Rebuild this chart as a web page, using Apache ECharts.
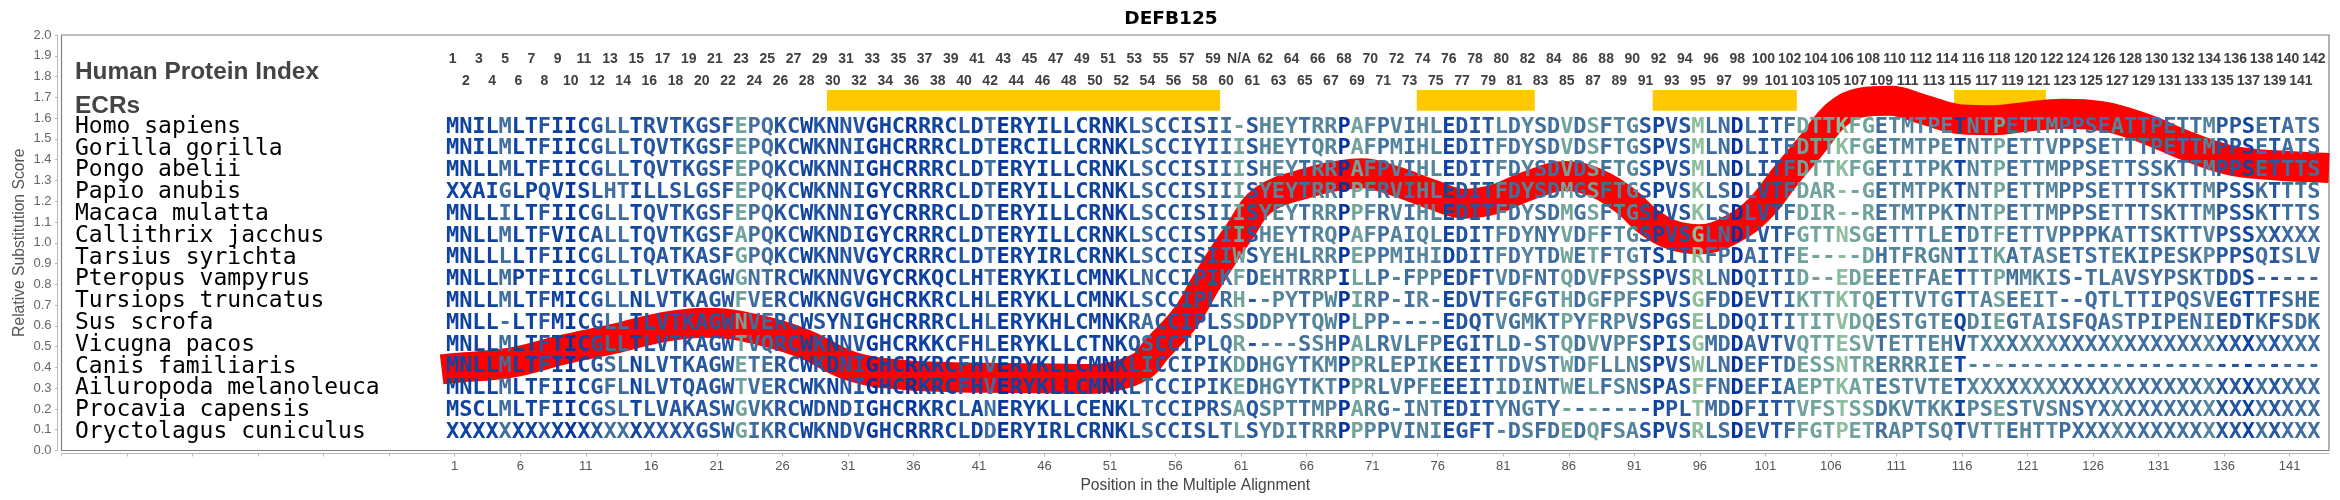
<!DOCTYPE html>
<html><head><meta charset="utf-8">
<style>html,body{margin:0;padding:0;background:#fff}#c{width:2340px;height:500px}</style>
<script src="https://cdn.jsdelivr.net/npm/echarts@6/dist/echarts.min.js"></script>
</head><body><div id="c"></div>
<script>
const chartTitle = 'DEFB125';
const speciesNames = ['Homo sapiens','Gorilla gorilla','Pongo abelii','Papio anubis','Macaca mulatta','Callithrix jacchus','Tarsius syrichta','Pteropus vampyrus','Tursiops truncatus','Sus scrofa','Vicugna pacos','Canis familiaris','Ailuropoda melanoleuca','Procavia capensis','Oryctolagus cuniculus'];
const sequences = [
'MNILMLTFII CGLLTRVTKG SFEPQKC WKNNVGHCRR RCLDTERYIL LCRNKLSCCI SII-SHEYTR RPAFPVIHLE DITLDYSDVD S FTGSPVSMLN DLITFDTTKF GETMTPETNT PETTMPPSEA TTPETTMPPS ETATS',
'MNILMLTFII CGLLTQVTKG SFEPQKC WKNNIGHCRR RCLDTERCIL LCRNKLSCCI YIIISHEYTQ RPAFPMIHLE DITFDYSDVD S FTGSPVSMLN DLITFDTTKF GETMTPETNT PETTVPPSET TTPETTMPPS ETATS',
'MNLLMLTFII CGLLTQVTKG SFEPQKC WKNNIGHCRR RCLDTERYIL LCRNKLSCCI SIIISHEYTR RPAFPVIHLE DITFDYSDVD S FTGSPVSMLN DLITFDTTKF GETITPKTNT PETTMPPSET TSSKTTMPPS ETTTS',
'XXAIGLPQVI SLHTILLSLG SFEPQKC WKNNIGYCRR RCLDTERYIL LCRNKLSCCI SIIISYEYTR RPPFRVIHLE DITFDYSDMG S FTGSPVSKLS DLVTFDAR-- GETMTPKTNT PETTMPPSET TTSKTTMPSS KTTTS',
'MNLLILTFII CGLLTQVTKG SFEPQKC WKNNIGYCRR RCLDTERYIL LCRNKLSCCI SIIISYEYTR RPPFRVIHLE DITFDYSDMG S FTGSPVSKLS DLVTFDIR-- RETMTPKTNT PETTMPPSET TTSKTTMPSS KTTTS',
'MNLLMLTFVI CALLTQVTKG SFAPQKC WKNDIGYCRR RCLDTERYIL LCRNKLSCCI SIIISHEYTR QPAFPAIQLE DITFDYNYVD F FTGSPVSGLN DLVTFGTTNS GETTTLETDT FETTVPPPKA TTSKTTVPSS XXXXX',
'MNLLLLTFII CGLLTQATKA SFGPQKC WKNNVGYCRR RCLDTERYIR LCRNKLSCCI SIIWSYEHLR RPEPPMIHID DITFDYTDWE T FTGTSITRFP DAITFE---- DHTFRGNTIT KATASETSTE KIPESKPPPS QISLV',
'MNLLMPTFII CGLLTLVTKA GWGNTRC WKNNVGYCRK QCLHTERYKI LCMNKLNCCI PIKFDEHTRR PILLP-FPPE DFTVDFNTQD V FPSSPVSRLN DQITID--ED EEETFAETTT PMMKIS-TLA VSYPSKTDDS -----',
'MNLLMLTFMI CGLLNLVTKA GWFVERC WKNGVGHCRK RCLHLERYKL LCMNKLSCCI PLRH--PYTP WPIRP-IR-E DVTFGFGTHD G FPFSPVSGFD DEVTIKTTKT QETTVTGTTA SEEIT--QTL TTIPQSVEGT TFSHE',
'MNLL-LTFMI CGLLTLVTKA GWNVERC WSYNIGHCRR RCLHLERYKH LCMNKRACCI PLSSDDPYTQ WPLPP----E DQTVGMKTPY F RPVSPGSELD DQITITITVD QESTGTEQDI EGTAISFQAS TPIPENIEDT KFSDK',
'MNLLMLTFTI CGLLTLVTKA GWTVQRC WKNNVGHCRK KCFHLERYKL LCTNKQSCCI PLQR----SS HPALRVLFPE GITLD-STQD V VPFSPISGMD DAVTVQTTES VTETTEHVTX XXXXXXXXXX XXXXXXXXXX XXXXX',
'MNLLMLTFII CGSLNLVTKA GWETERC WKDNIGHCRK RCFHVERYKL LCMNKLICCI PIKDDHGYTK MPPRLEPIKE EITTDVSTWD F LLNSPVSWLN DEFTDESSNT RERRRIET-- ---------- ---------- -----',
'MNLLMLTFII CGFLNLVTQA GWTVERC WKNNIGHCRK RCFHVERYKL LCMNKLTCCI PIKEDHGYTK TPPRLVPFEE EITIDINTWE L FSNSPASFFN DEFIAEPTKA TESTVTETXX XXXXXXXXXX XXXXXXXXXX XXXXX',
'MSCLMLTFII CGSLTLVAKA SWGVKRC WDNDIGHCRK RCLANERYKL LCENKLTCCI PRSAQSPTTM PPARG-INTE DITYNGTY-- - ----PPLTMD DFITTVFSTS SDKVTKKIPS ESTVSNSYXX XXXXXXXXXX XXXXX',
'XXXXXXXXXX XXXXXXXXXG SWGIKRC WKNDVGHCRR RCLDDERYIR LCRNKLSCCI SLTLSYDITR RPPPPVINIE GFT-DSFDED Q FSASPVSRLS DEVTFFGTPE TRAPTSQTVT TEHTTPXXXX XXXXXXXXXX XXXXX'
];
// Shade of each alignment column, 0 = deepest blue ... 6 = palest green
const columnShades = '1111311210 1233122222 2253322 1212201101 1121301111 1110123222 2235244434 4054343441 2224343353 5 3442122633 0322355565 5344444144 5344433334 3333334221 32333';
const shadePalette = ['#06339f','#0f43a0','#25569f','#3f6e9f','#55859d','#6fa39c','#8cbd9c'];
const ecrStart = [30,75,93,116];
const ecrEnd = [59,83,103,122];
const linePositions = [0,1,5.3,9.2,13.1,16.6,20.1,22.8,27.4,31.3,35.2,39.1,43,46.9,49.2,51.5,53.5,54.5,56.8,58.3,59.9,60.8,62.7,66.4,68.7,70.2,72.6,75.7,78,80.4,82.7,85.8,88,90.3,92.1,93.9,96,98.6,100.7,102.5,104.4,106.5,108.3,110.5,113,115.9,118.4,120.9,123.7,126.6,129.9,133.1,136.4,139.6,144];
const lineScores = [0.39,0.397,0.423,0.484,0.537,0.59,0.615,0.60,0.52,0.404,0.364,0.353,0.349,0.346,0.344,0.36,0.41,0.484,0.644,0.805,0.965,1.046,1.206,1.294,1.326,1.335,1.30,1.23,1.188,1.21,1.27,1.321,1.29,1.203,1.10,1.037,1.017,1.07,1.173,1.318,1.462,1.62,1.675,1.683,1.643,1.594,1.59,1.606,1.621,1.61,1.551,1.467,1.398,1.374,1.36];
const axisTickLabels = [1,6,11,16,21,26,31,36,41,46,51,56,61,66,71,76,81,86,91,96,101,106,111,116,121,126,131,136,141];
const blankTicks = [-29,-24,-19,-14,-9,-4];
const hiddenColumnLabel = 'N/A';

const X_SHIFT = 29;           // axis value = alignment position + shift, so min is a multiple of the interval
const LETTER_NUDGE = -0.15;
const FIRST_ROW_Y = 1.558, ROW_STEP = 0.10495;
const NAME_X = 1.03;
const LABEL_Y_ODD = 1.885, LABEL_Y_EVEN = 1.779;
const ECR_TOP = 1.735, ECR_BOTTOM = 1.635;

const shades = columnShades.replace(/ /g,'');
const texts = [];
const add = (x,y,text,font,fill,align) => texts.push({x,y,text,font,fill,align});
const seqFont = 'bold 22px "DejaVu Sans Mono"';
sequences.forEach((raw,r)=>{
  const seq = raw.replace(/ /g,'');
  const y = FIRST_ROW_Y - r*ROW_STEP;
  add(NAME_X,y,speciesNames[r],'23px "DejaVu Sans Mono"','#000','left');
  for(let i=0;i<seq.length;i++){
    const s = +shades[i];
    const fill = shadePalette[seq[i]==='X' ? Math.min(s,4) : s];
    add(i+1+X_SHIFT+LETTER_NUDGE,y,seq[i],seqFont,fill,'center');
  }
});
for(let c=1;c<=143;c++){
  const label = c<=60 ? String(c) : (c===61 ? hiddenColumnLabel : String(c-1));
  add(c+X_SHIFT+LETTER_NUDGE,c%2?LABEL_Y_ODD:LABEL_Y_EVEN,label,'bold 14px "Liberation Sans"','#404040','center');
}
const headFont = 'bold 24.4px "Liberation Sans"';
add(NAME_X,1.822,'Human Protein Index',headFont,'#444','left');
add(NAME_X,1.657,'ECRs',headFont,'#444','left');

const xTicks = blankTicks.concat(axisTickLabels).map(p=>p+X_SHIFT);
const chart = echarts.init(document.getElementById('c'),null,{renderer:'canvas'});
chart.setOption({
  animation:false,
  backgroundColor:'#fff',
  title:{text:chartTitle,left:1166,top:5,textAlign:'center',textStyle:{fontFamily:'DejaVu Sans',fontWeight:'bold',fontSize:18.5,color:'#000'}},
  grid:{left:61.5,right:11,top:35,bottom:49.5,show:true,borderColor:'#808080',borderWidth:1.2,backgroundColor:'#fff'},
  xAxis:{type:'value',min:0,max:173,interval:5,offset:3,
    name:'Position in the Multiple Alignment',nameLocation:'middle',nameGap:24,
    nameTextStyle:{fontFamily:'Liberation Sans',fontSize:15.6,color:'#444'},
    splitLine:{show:false},
    axisLine:{show:true,onZero:false,lineStyle:{color:'#b8b8b8',width:1}},
    axisTick:{show:true,length:3,customValues:xTicks,lineStyle:{color:'#b8b8b8'}},
    axisLabel:{fontFamily:'Liberation Sans',fontSize:13,color:'#555',margin:6,customValues:xTicks,
      showMinLabel:true,showMaxLabel:true,hideOverlap:false,
      formatter:v=>{const p=Math.round(v)-X_SHIFT;return axisTickLabels.includes(p)?String(p):'';}}
  },
  yAxis:{type:'value',min:0,max:2,interval:0.1,offset:4,
    name:'Relative Substitution Score',nameLocation:'middle',nameRotate:90,nameGap:30,nameMoveOverlap:false,
    nameTextStyle:{fontFamily:'Liberation Sans',fontSize:15.7,color:'#555'},
    splitLine:{show:false},
    axisLine:{show:true,onZero:false,lineStyle:{color:'#b8b8b8',width:1}},
    axisTick:{show:true,length:2.5,lineStyle:{color:'#b8b8b8'}},
    axisLabel:{fontFamily:'Liberation Sans',fontSize:13,color:'#666',margin:6,formatter:v=>v.toFixed(1)}
  },
  series:[
    {type:'custom',name:'ECRs',silent:true,z:2,coordinateSystem:'cartesian2d',
      data:ecrStart.map((s,i)=>[s-0.6+X_SHIFT,ecrEnd[i]+0.4+X_SHIFT]),
      encode:{x:[0,1]},
      renderItem:(p,api)=>{
        const a=api.coord([api.value(0),ECR_TOP]), b=api.coord([api.value(1),ECR_BOTTOM]);
        return {type:'rect',shape:{x:a[0],y:a[1],width:b[0]-a[0],height:b[1]-a[1]},style:{fill:'#ffc800'}};
      }},
    {type:'line',name:'Relative Substitution Score',silent:true,z:3,smooth:0.4,symbol:'none',
      data:linePositions.map((p,i)=>[p+X_SHIFT,lineScores[i]]),
      lineStyle:{color:'#ff0000',width:30,cap:'butt',join:'round'}},
    {type:'custom',name:'Text',silent:true,z:4,clip:false,coordinateSystem:'cartesian2d',
      data:texts.map(t=>[t.x,t.y]),
      encode:{x:0,y:1},
      renderItem:(p,api)=>{
        const t=texts[p.dataIndex], c=api.coord([t.x,t.y]);
        return {type:'text',x:c[0],y:c[1],style:{text:t.text,font:t.font,fill:t.fill,align:t.align,verticalAlign:'middle'}};
      }}
  ]
});
</script></body></html>
